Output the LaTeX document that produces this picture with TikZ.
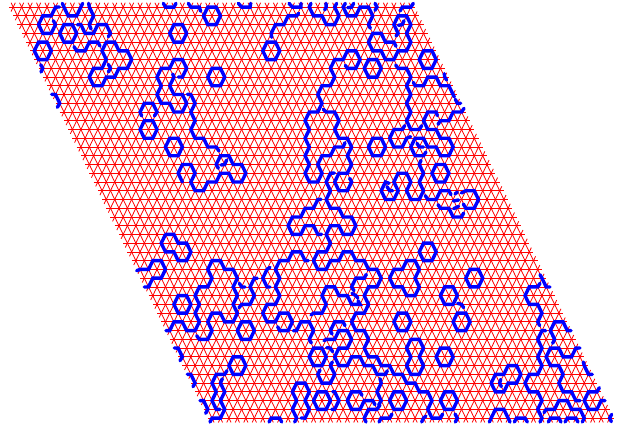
\documentclass[tikz,border=0pt]{standalone}
\tikzset{
  latline/.style={draw={rgb,255:red,255;green,0;blue,0},line width=0.8pt},
  hull/.style={draw={rgb,255:red,0;green,0;blue,255},line width=3.4pt,line cap=round,line join=miter}
}
\def\Xo{13.2}\def\Yo{7.1}\def\Ax{8.46}\def\Ah{4.23}\def\Hh{8.744}
\gdef\ox{0}\gdef\oy{0}\gdef\acc{}
\newcommand\fr[2]{\gdef\ox{#1}\gdef\oy{#2}}
\newcommand\lpts[1]{%
  \foreach \xx/\yy in {#1}{%
    \pgfmathsetmacro\px{\ox+(\xx>4000 ? \xx-5000 : \xx)/3}%
    \pgfmathsetmacro\py{\oy+\yy/3}%
    \ifdim\xx pt>4000pt\relax\else
      \pgfmathsetmacro\rr{round((\py-\Yo)/\Hh)}%
      \pgfmathsetmacro\cc{round((\px-\Xo-\Ah*\rr)/\Ax)}%
      \pgfmathsetmacro\px{\Xo+\Ax*\cc+\Ah*\rr}%
      \pgfmathsetmacro\py{\Yo+\Hh*\rr}%
    \fi
    \ifx\acc\empty\xdef\acc{(\px,\py)}\else\xdef\acc{\acc -- (\px,\py)}\fi
  }}
\newcommand\flushp{\edef\tmpd{\noexpand\draw[hull] \acc;}\tmpd\gdef\acc{}}
\newcommand\pth[1]{\lpts{#1}\flushp}
\newcommand\hx[2]{%
  \pgfmathsetmacro\px{\ox+#1/3}\pgfmathsetmacro\py{\oy+#2/3}%
  \pgfmathsetmacro\rr{round((\py-\Yo)/\Hh)}%
  \pgfmathsetmacro\cc{round((\px-\Xo-\Ah*\rr)/\Ax)}%
  \pgfmathsetmacro\px{\Xo+\Ax*\cc+\Ah*\rr}%
  \pgfmathsetmacro\py{\Yo+\Hh*\rr}%
  \draw[hull] ({\px-\Ax},\py) -- ({\px-\Ah},{\py-\Hh}) -- ({\px+\Ah},{\py-\Hh}) -- ({\px+\Ax},\py) -- ({\px+\Ah},{\py+\Hh}) -- ({\px-\Ah},{\py+\Hh}) -- cycle;}
\begin{document}
\begin{tikzpicture}[x=1pt,y=-1pt]
\useasboundingbox (0,0) rectangle (624,426);
% lattice
\foreach \r in {0,...,47}{
  \draw[latline] ({\Xo+\Ah*\r-\Ah},{\Yo+\Hh*\r}) -- ({\Xo+\Ah*\r+47*\Ax+\Ah},{\Yo+\Hh*\r});
}
\foreach \c in {0,...,47}{
  \draw[latline] ({\Xo+\Ax*\c-0.5*\Ah},{\Yo-0.5*\Hh}) -- ({\Xo+\Ax*\c+47.5*\Ah},{\Yo+47.5*\Hh});
}
\foreach \k in {0,...,94}{
  \pgfmathsetmacro\ra{max(0,\k-47)-0.5}
  \pgfmathsetmacro\rb{min(47,\k)+0.5}
  \draw[latline] ({\Xo+\Ax*\k-\Ah*\ra},{\Yo+\Hh*\ra}) -- ({\Xo+\Ax*\k-\Ah*\rb},{\Yo+\Hh*\rb});
}
% frame 1
\fr{0}{0}
\pth{5178/21,166/21,147/47,125/47,112/74,125/100,150/100,165/74,5160/62}
\pth{5187/10,192/21,205/47,230/47,243/21,5248/10}
\pth{5266/10,267/21,280/47,267/74,5273/87}
\pth{5232/74,242/74,255/100,280/100,293/74,318/74,331/100,5325/110}
\pth{5222/140,230/152,255/152,268/126,293/126,5300/138}
\hx{204}{100}\hx{126}{152}\hx{532}{100}\hx{445}{388}
\pth{5425/348,418/336,431/310,456/310,468/336,5463/348}
\pth{5122/194,128/205,5123/216}
\pth{5155/283,166/283,178/310,5172/322}
\pth{317/126,342/126,355/152,380/152,393/179,380/205,355/205,342/231,317/231,304/257,279/257,267/231,279/205,304/205,317/179,305/152,317/126}
\pth{5325/193,330/205,5325/216}
\pth{5535/231,545/231,557/205,544/179,519/179,506/205,481/205,469/231,481/257,468/283,481/310,506/310,519/336,544/336,556/310,544/283,519/283,506/257,519/231,5518/222}
\pth{5562/283,569/283,581/310,569/336,582/362,569/388,582/415,607/415,620/441,645/441,5657/453}
\pth{5490/10,494/21,519/21,5528/10}
\pth{5565/10,570/21,595/21,5602/34}
% frame 2
\fr{200}{0}
\hx{33}{47}\hx{212}{152}\hx{47}{231}\hx{517}{205}\hx{683}{179}
\pth{5115/10,120/21,146/21,5152/10}
\pth{5267/10,271/21,296/21,5303/10}
\pth{5296/40,284/47,259/47,247/74,222/74,209/100,5215/112}
\pth{5333/10,328/21,341/47,366/47,379/74,404/74,417/47,404/21,5410/10}
\pth{5378/10,379/21,5374/30}
\pth{5436/10,429/21,442/47,467/47,480/21,505/21,518/47,505/74,5511/85}
\pth{5443/23,455/21,5461/10}
\pth{5525/10,531/21,5525/31}
\pth{5600/33,607/21,632/21,5640/10}
\pth{5588/108,594/100,582/74,594/47,620/47,632/74,620/100,632/126,620/152,594/152,582/179,557/179,544/152,518/152,506/126,518/100,544/100,557/126,582/126,5588/139}
\pth{5595/76,607/72,5612/62}
\lpts{5436/196,441/205,466/205,480/179,467/152,442/152,429/179,403/179,390/205,403/231,390/257,365/257,352/283,365/310,352/336,327/336}
\fr{280}{100}
\lpts{75/62,88/89,75/115,88/141,75/167,88/193,75/219,88/246,113/246,125/219,113/193,125/167,150/167,163/141,188/141,5195/128}
\flushp
\pth{5130/28,139/36,164/36,177/62,164/89,177/115,202/115,215/141,202/167,215/193,202/219,177/219,164/246,177/272,202/272,215/246,5209/235}
\lpts{5163/219,152/219,139/246,151/272,139/298}
\fr{280}{195}
\lpts{150/40,175/40,188/66,213/66,225/92,213/118,188/118,175/92,150/92,138/118,150/145,138/171,112/171,100/197,112/223,138/223,150/197,175/197,188/171,213/171,226/197,250/197,263/223,288/223,302/250,288/276}
\fr{130}{270}
\lpts{715/51,703/77,715/103,703/129,677/129,665/156,677/182,703/182,715/208,703/234,715/261}
\fr{370}{270}
\lpts{21/261,34/287,59/287,72/313,97/313,110/339,135/339,148/365,173/365,186/392,173/418,186/444,211/444,5218/432}
\flushp
\fr{280}{195}
\pth{5123/13,113/13,100/40,75/40,62/66,37/66,25/92,37/118,62/118,75/92,100/92,113/118,5125/118}
\lpts{5085/197,75/197,62/171,37/171,25/197,-1/197}
\fr{130}{270}
\lpts{436/-2,449/25,436/51,449/77,436/103,411/103,398/129,411/156,436/156,449/129,474/129,487/156,474/182,449/182,5443/170}
\flushp
\fr{280}{195}
\pth{5259/238,253/250,228/250,215/276,5222/287}
% frame 3
\fr{120}{140}
\hx{160}{21}
\pth{5050/392,60/388,85/388,97/362,122/362,135/388,122/415,97/415,84/441,5073/441}
\pth{187/126,175/99,187/73,213/73,225/99,213/126,225/152,251/152,263/126,289/126,301/99,327/99,339/126,365/126,377/99,365/73,339/73,327/47,301/47,289/73,5295/85}
\pth{5303/75,314/73,5320/60}
\pth{136/283,162/283,175/310,200/310,213/336,200/362,175/362,162/336,136/336,124/310,136/283}
% frame 5
\fr{130}{270}
\hx{157}{103}\hx{347}{182}\hx{320}{287}\hx{576}{392}\hx{563}{261}
\pth{5420/-8,411/-2,398/25,411/51,5420/51}
\pth{5108/182,119/182,132/156,157/156,170/182,195/182,208/156,195/129,208/103,195/77,208/51,233/51,246/25,233/-2,246/-28,271/-28,284/-2,309/-2,322/25,309/51,322/77,309/103,322/129,309/156,284/156,271/129,246/129,233/156,246/182,233/208,208/208,5200/197}
\pth{5328/40,335/51,5345/51}
\pth{5382/25,373/25,360/51,373/77,360/103,335/103,5327/113}
\pth{5291/302,284/313,259/313,246/339,259/365,246/392,259/418,5270/418}
\pth{5277/326,271/339,284/365,271/392,284/418,271/444,246/444,5240/456}
\pth{5133/234,144/234,157/261,5150/272}
\pth{5172/313,183/313,195/339,5189/350}
\pth{5210/392,221/392,233/418,5227/430}
\pth{5417/456,424/444,449/444,5455/456}
\pth{5513/444,525/444,538/418,525/392,538/365,525/339,500/339,487/365,500/392,487/418,500/444,5494/456}
\pth{5608/365,614/365,627/392,614/418,5605/418}
\pth{5696/376,690/365,665/365,652/392,665/418,690/418,703/392,728/392,5735/404}
\pth{5750/405,741/418,716/418,703/444,5708/456}
\pth{5543/135,550/129,576/129,589/103,576/77,589/51,614/51,627/77,652/77,665/103,690/103,5684/92}
\pth{5666/70,677/77,5684/84}
\pth{5606/192,601/182,614/156,639/156,5645/167}
\pth{5490/182,500/182,513/156,538/156,551/182,538/208,5544/219}
\pth{5590/233,601/234,5608/245}
\pth{5582/212,589/208,614/208,627/182,652/182,665/208,652/234,627/234,614/261,627/287,652/287,665/261,690/261,703/287,728/287,741/313,766/313,5772/302}
\pth{5607/276,601/287,614/313,601/339,576/339,563/313,5570/300}
% frame 6
\fr{370}{270}
\hx{312}{25}\hx{236}{77}\hx{274}{156}\hx{97}{156}\hx{224}{261}\hx{84}{392}\hx{236}{392}
\pth{5027/456,34/444,59/444,5066/432}
\pth{59/25,72/-2,97/-2,110/-28,135/-28,148/-2,135/25,148/51,135/77,110/77,97/51,72/51,59/25}
\pth{5263/100,275/103,5281/113}
\pth{122/208,148/208,160/234,148/261,160/287,148/313,122/313,110/287,122/261,110/234,122/208}
\pth{5030/326,34/339,21/365,34/392,5026/405}
\pth{5255/432,262/444,5256/456}
\pth{5155/456,160/444,5168/438}
\pth{5358/456,364/444,376/418,402/418,414/444,5420/456}
\pth{5433/456,440/444,465/444,5472/456}
\pth{5535/456,541/444,566/444,5573/456}
\pth{5585/456,592/444,617/444,5624/456}
\pth{5522/428,529/418,554/418,567/392,592/392,605/418,630/418,643/444,5637/456}
\pth{5725/433,719/444,5724/455}
\pth{5510/14,516/25,529/51,5540/51}
\pth{5510/40,503/51,478/51,465/77,478/103,503/103,516/129,503/156,5509/167}
\pth{5527/182,516/182,503/208,516/234,503/261,516/287,503/313,478/313,465/339,478/365,503/365,516/392,503/418,516/444,5510/456}
\pth{5548/220,554/208,541/182,554/156,579/156,592/182,5603/182}
\pth{5630/234,617/234,605/261,579/261,567/234,541/234,529/261,541/287,567/287,579/313,567/339,579/365,605/365,617/392,5630/392}
\pth{5640/276,643/287,655/313,5667/313}
\pth{5688/353,681/365,655/365,643/392,655/418,681/418,694/392,5705/392}
\pth{364/339,376/313,402/313,414/287,440/287,453/313,440/339,414/339,402/365,376/365,364/339}
\pth{5392/328,389/339,5394/350}
% frame 4 and 2, right side
\fr{200}{0}
\pth{5587/195,594/205,620/205,632/231,620/257,632/283,620/310,632/336,620/362,632/388,658/388,5665/377}
\pth{5640/247,645/257,670/257,683/231,708/231,721/257,747/257,759/283,5763/291}
\pth{5766/298,772/310,5782/310}
\pth{5733/221,734/231,5740/240}
\pth{5792/325,785/336,759/336,747/362,721/362,5714/373}
\lpts{5712/347,708/336,683/336,670/362,683/388,708/388}
\fr{320}{130}
\lpts{361/25,387/25,399/51,387/77,361/77,349/51,323/51,311/25,285/25,272/51,285/77,311/77,5318/66}
\flushp
\pth{5291/40,298/51,5310/51}
\fr{200}{0}
\lpts{5614/377,607/388,582/388}
\fr{320}{130}
\lpts{209/25,222/51,247/51,260/25,5272/20}
\flushp
\hx{168}{50}\hx{360}{130}\hx{322}{365}
\pth{5303/91,298/103,310/130,298/156,310/182,298/208,272/208,260/182,272/156,260/130,234/130,222/156,234/182,222/208,196/208,184/182,196/156,5207/160}
\pth{5201/170,209/182,5218/182}
\pth{5316/197,323/208,349/208,361/182,387/182,5393/194}
\pth{5354/224,361/234,387/234,399/261,425/261,5431/249}
\pth{5424/189,437/182,463/182,475/208,463/234,437/234,5430/222}
\pth{5400/213,5416/210}
\pth{5401/236,5416/229}
\pth{5405/192,5412/186}
\end{tikzpicture}
\end{document}
